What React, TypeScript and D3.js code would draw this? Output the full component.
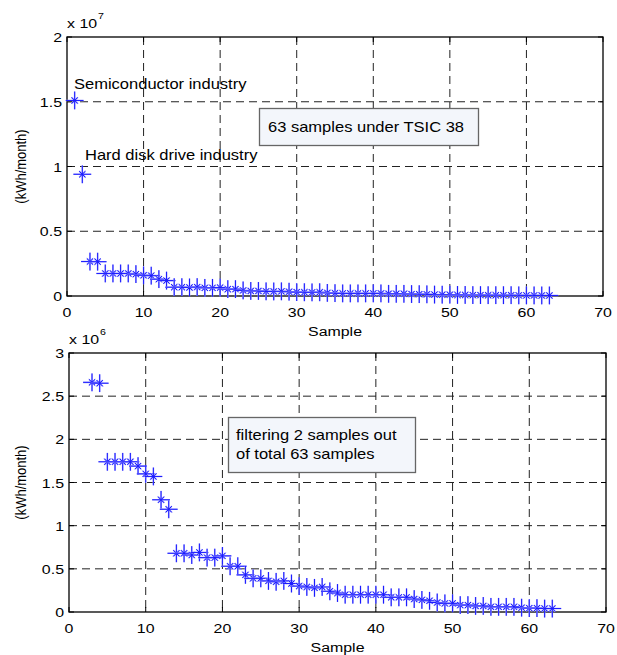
import React from "react";
import * as d3 from "d3";

// monthly electricity use (kWh/month) of the 63 samples, sorted high to low
const samples = d3.range(1, 64);
const usage = [
  15.1e6, 9.4e6, 2.66e6, 2.65e6, 1.74e6, 1.74e6, 1.74e6, 1.74e6, 1.69e6, 1.6e6,
  1.57e6, 1.3e6, 1.19e6, 0.68e6, 0.68e6, 0.66e6, 0.69e6, 0.63e6, 0.63e6, 0.65e6,
  0.53e6, 0.53e6, 0.43e6, 0.39e6, 0.39e6, 0.36e6, 0.35e6, 0.36e6, 0.33e6, 0.3e6,
  0.29e6, 0.28e6, 0.29e6, 0.24e6, 0.22e6, 0.2e6, 0.2e6, 0.2e6, 0.2e6, 0.2e6,
  0.2e6, 0.17e6, 0.17e6, 0.17e6, 0.15e6, 0.14e6, 0.13e6, 0.11e6, 0.1e6, 0.1e6,
  0.08e6, 0.08e6, 0.07e6, 0.07e6, 0.06e6, 0.06e6, 0.06e6, 0.06e6, 0.05e6, 0.045e6,
  0.045e6, 0.04e6, 0.04e6,
];
// the two largest (semiconductor, hard disk drive) are filtered out below
const filteredOut = 2;

const xTicks = [0, 10, 20, 30, 40, 50, 60, 70];
const topYTicks = [0, 0.5, 1, 1.5, 2];
const bottomYTicks = [0, 0.5, 1, 1.5, 2, 2.5, 3];

const FONT = "'Liberation Sans', Arial, sans-serif";
const SX = 1.18; // the original figure is a bit wider than tall
const plusPath = d3.symbol(d3.symbolPlus, 105)()!;
const timesPath = d3.symbol(d3.symbolTimes, 27)()!;

// stretched text
const T = ({ x, y, size, anchor = "start", children }: any) => (
  <text transform={`translate(${x},${y}) scale(${SX},1)`} fontSize={size} textAnchor={anchor}>
    {children}
  </text>
);

type Pt = { x: number; y: number };

const Panel = ({
  pts,
  box,
  yMax,
  yTicks,
  exp,
}: {
  pts: Pt[];
  box: { left: number; right: number; top: number; bottom: number };
  yMax: number;
  yTicks: number[];
  exp: number;
}) => {
  const x = d3.scaleLinear().domain([0, 70]).range([box.left, box.right]);
  const y = d3.scaleLinear().domain([0, yMax]).range([box.bottom, box.top]);
  const unit = Math.pow(10, exp);
  const midY = (box.top + box.bottom) / 2;
  return (
    <g fontFamily={FONT} fill="#000">
      {/* grid */}
      {xTicks.slice(1, -1).map((t) => (
        <line key={"gx" + t} x1={x(t)} x2={x(t)} y1={box.top} y2={box.bottom}
          stroke="#222" strokeDasharray="8,5" />
      ))}
      {yTicks.slice(1, -1).map((t) => (
        <line key={"gy" + t} x1={box.left} x2={box.right} y1={y(t * unit)} y2={y(t * unit)}
          stroke="#222" strokeDasharray="8,5" />
      ))}
      {/* inward tick marks */}
      {xTicks.map((t) => (
        <g key={"tx" + t}>
          <line x1={x(t)} x2={x(t)} y1={box.bottom} y2={box.bottom - 5} stroke="#000" />
          <line x1={x(t)} x2={x(t)} y1={box.top} y2={box.top + 5} stroke="#000" />
          <T x={x(t)} y={box.bottom + 21} size={13.5} anchor="middle">{t}</T>
        </g>
      ))}
      {yTicks.map((t) => (
        <g key={"ty" + t}>
          <line x1={box.left} x2={box.left + 5} y1={y(t * unit)} y2={y(t * unit)} stroke="#000" />
          <line x1={box.right} x2={box.right - 5} y1={y(t * unit)} y2={y(t * unit)} stroke="#000" />
          <T x={box.left - 5} y={y(t * unit) + 5} size={13.5} anchor="end">{t}</T>
        </g>
      ))}
      <rect x={box.left} y={box.top} width={box.right - box.left} height={box.bottom - box.top}
        fill="none" stroke="#000" strokeWidth={1.3} />
      {/* exponent */}
      <T x={box.left} y={box.top - 9} size={13.5}>x 10</T>
      <T x={box.left + 31} y={box.top - 18} size={9}>{exp}</T>
      {/* axis labels */}
      <text transform={`translate(26,${midY}) rotate(-90) scale(1,${SX})`} fontSize={13}
        textAnchor="middle">(kWh/month)</text>
      <T x={(box.left + box.right) / 2} y={box.bottom + 40} size={13.5} anchor="middle">Sample</T>
      {/* markers */}
      {pts.map((p) => (
        <g key={"m" + p.x} transform={`translate(${x(p.x)},${y(p.y)})`} fill="none">
          <path d={plusPath} stroke="#a5a5ff" strokeWidth={1.6} />
          <path d={timesPath} stroke="#a5a5ff" strokeWidth={1.6} />
          <path d={plusPath} stroke="#1a1aff" strokeWidth={1} />
          <path d={timesPath} stroke="#1a1aff" strokeWidth={1} />
        </g>
      ))}
    </g>
  );
};

export default function App() {
  const all = samples.map((s, i) => ({ x: s, y: usage[i] }));
  const filtered = all.slice(filteredOut);
  const topBox = { left: 67, right: 603, top: 37, bottom: 296 };
  const botBox = { left: 69, right: 606, top: 353, bottom: 612 };
  return (
    <div style={{ position: "absolute", left: 0, top: 0 }}>
      <svg width={617} height={655} style={{ display: "block", background: "#fff" }}>
        <Panel pts={all} box={topBox} yMax={2e7} yTicks={topYTicks} exp={7} />
        <Panel pts={filtered} box={botBox} yMax={3e6} yTicks={bottomYTicks} exp={6} />

        <g fontFamily={FONT}>
          <T x={74} y={89} size={14}>Semiconductor industry</T>
          <T x={85} y={160} size={14}>Hard disk drive industry</T>
          <rect x={259.5} y={108.5} width={219} height={37} fill="#f3f6fb" stroke="#666" strokeWidth={1.3} />
          <T x={268} y={132} size={14}>63 samples under TSIC 38</T>

          <rect x={228.5} y={417.5} width={187} height={55} fill="#f3f6fb" stroke="#666" strokeWidth={1.3} />
          <T x={236} y={440} size={14}>filtering 2 samples out</T>
          <T x={236} y={459} size={14}>of total 63 samples</T>
        </g>
      </svg>
    </div>
  );
}
